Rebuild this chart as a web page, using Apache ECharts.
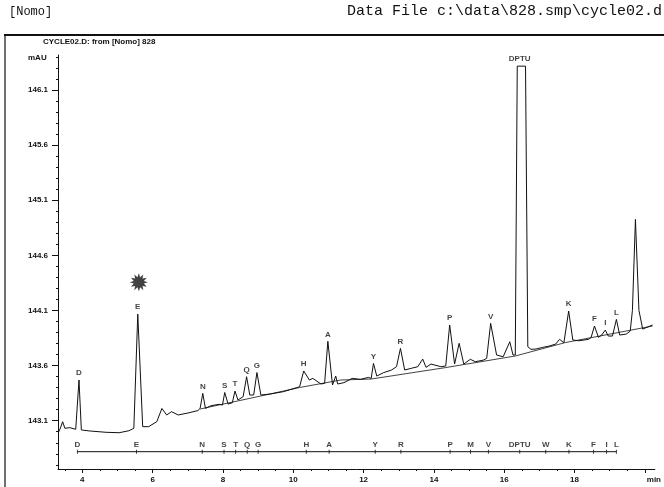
<!DOCTYPE html>
<html>
<head>
    <meta charset="utf-8">
    <title>CYCLE02.D</title>
    <script src="https://cdn.jsdelivr.net/npm/echarts@6/dist/echarts.min.js"></script>
    <style>
        html, body {
            margin: 0;
            padding: 0;
            background: #ffffff;
        }

        #chart {
            width: 664px;
            height: 487px;
        }
    </style>
</head>
<body>
<div id="chart"></div>
<script>
    // 色谱图数据 (min, mAU)
    var times = [3.322, 3.378, 3.440, 3.504, 3.644, 3.812, 3.905, 3.972, 4.204, 4.672,
        5.045, 5.325, 5.465, 5.577, 5.717, 5.885, 6.118, 6.263, 6.398, 6.538,
        6.725, 7.006, 7.286, 7.350, 7.426, 7.501, 7.658, 7.894, 7.986, 8.050,
        8.146, 8.266, 8.342, 8.426, 8.574, 8.672, 8.762, 8.874, 8.966, 9.078,
        9.339, 9.714, 10.087, 10.179, 10.297, 10.459, 10.555, 10.787, 10.891, 10.983,
        11.115, 11.207, 11.263, 11.440, 11.675, 11.908, 12.140, 12.216, 12.280, 12.375,
        12.560, 12.796, 12.936, 13.048, 13.168, 13.356, 13.541, 13.681, 13.776, 13.916,
        14.196, 14.336, 14.448, 14.588, 14.717, 14.849, 15.036, 15.176, 15.409, 15.501,
        15.613, 15.782, 15.969, 16.157, 16.249, 16.314, 16.370, 16.605, 16.670, 16.762,
        16.902, 17.090, 17.277, 17.462, 17.574, 17.697, 17.742, 17.832, 17.950, 18.118,
        18.398, 18.471, 18.566, 18.678, 18.770, 18.874, 18.958, 19.078, 19.190, 19.283,
        19.471, 19.583, 19.645, 19.731, 19.831, 19.938, 20.218];
    var signal = [142.995, 143.034, 143.091, 143.031, 143.037, 143.022, 143.469, 143.016, 143.007, 142.995,
        142.991, 143.009, 143.031, 144.067, 143.046, 143.046, 143.091, 143.211, 143.152, 143.182,
        143.152, 143.170, 143.192, 143.212, 143.348, 143.212, 143.236, 143.249, 143.242, 143.356,
        143.251, 143.263, 143.369, 143.288, 143.318, 143.499, 143.333, 143.333, 143.537, 143.333,
        143.342, 143.363, 143.399, 143.408, 143.551, 143.469, 143.484, 143.433, 143.439, 143.820,
        143.424, 143.505, 143.433, 143.445, 143.484, 143.475, 143.493, 143.484, 143.620, 143.505,
        143.535, 143.560, 143.590, 143.756, 143.560, 143.575, 143.590, 143.659, 143.584, 143.614,
        143.590, 143.596, 143.968, 143.614, 143.802, 143.614, 143.657, 143.635, 143.650, 143.666,
        143.983, 143.696, 143.680, 143.816, 143.696, 143.696, 146.316, 146.316, 143.771, 143.747,
        143.750, 143.765, 143.777, 143.795, 143.838, 143.807, 143.816, 144.095, 143.832, 143.825,
        143.838, 143.856, 143.959, 143.856, 143.877, 143.922, 143.868, 143.868, 144.019, 143.877,
        143.886, 143.913, 144.100, 144.926, 144.100, 143.931, 143.968];

    // 积分基线
    var baseTimes = [7.350, 9.078, 10.179, 11.347, 12.216, 14.336, 16.314, 17.742, 20.218];
    var baseValues = [143.206, 143.324, 143.401, 143.469, 143.478, 143.582, 143.687, 143.809, 143.959];

    // 峰标记
    var peakNames = ['D', 'E', 'N', 'S', 'T', 'Q', 'G', 'H', 'A', 'Y', 'R', 'P', 'V', 'DPTU', 'K', 'F', 'I', 'L'];
    var peakTimes = [3.905, 5.577, 7.426, 8.050, 8.342, 8.672, 8.966, 10.297, 10.983, 12.280,
        13.048, 14.448, 15.613, 16.440, 17.832, 18.566, 18.874, 19.190];
    var peakTops = [143.469, 144.067, 143.348, 143.356, 143.369, 143.499, 143.537, 143.551, 143.820, 143.620,
        143.756, 143.968, 143.983, 146.316, 144.095, 143.959, 143.922, 144.019];

    // 时间轴上的峰名
    var eventNames = ['D', 'E', 'N', 'S', 'T', 'Q', 'G', 'H', 'A', 'Y', 'R', 'P', 'M', 'V', 'DPTU', 'W', 'K', 'F', 'I', 'L'];
    var eventTimes = [3.86, 5.54, 7.41, 8.03, 8.36, 8.69, 9.00, 10.37, 11.02, 12.33,
        13.06, 14.46, 15.04, 15.55, 16.44, 17.18, 17.84, 18.54, 18.91, 19.19];
    var eventLevel = 142.819;

    // 坐标轴刻度
    var xTicks = [4, 6, 8, 10, 12, 14, 16, 18, 20];
    var xMinorTicks = [3.5, 4.5, 5, 5.5, 6.5, 7, 7.5, 8.5, 9, 9.5, 10.5, 11, 11.5, 12.5, 13, 13.5,
        14.5, 15, 15.5, 16.5, 17, 17.5, 18.5, 19, 19.5];
    var yTicks = [143.1, 143.6, 144.1, 144.6, 145.1, 145.6, 146.1];
    var yMinorTicks = [142.7, 142.8, 142.9, 143.0, 143.2, 143.3, 143.4, 143.5, 143.7, 143.8, 143.9, 144.0,
        144.2, 144.3, 144.4, 144.5, 144.7, 144.8, 144.9, 145.0, 145.2, 145.3, 145.4, 145.5,
        145.7, 145.8, 145.9, 146.0, 146.2, 146.3, 146.4];

    var starTime = 5.605, starValue = 144.33;

    var ink = '#111111';

    function zip(a, b) {
        return a.map(function (v, i) {
            return [v, b[i]];
        });
    }

    var chart = echarts.init(document.getElementById('chart'), null, {renderer: 'canvas'});

    var xRange = {min: 3.308, max: 20.283};
    var yRange = {min: 142.662, max: 146.417};

    var option = {
        backgroundColor: '#ffffff',
        animation: false,
        grid: {left: 58, right: 0, top: 55, bottom: 18, containLabel: false},
        xAxis: [{
            type: 'value',
            min: xRange.min,
            max: xRange.max,
            axisLine: {lineStyle: {color: ink, width: 1}},
            axisTick: {show: true, length: 4, customValues: xTicks, lineStyle: {color: ink}},
            axisLabel: {
                customValues: xTicks,
                margin: 7,
                color: ink, fontSize: 8, fontWeight: 'bold', fontFamily: 'Liberation Sans',
                formatter: function (v) {
                    return v === 20 ? '{m|min}' : String(v);
                },
                rich: {m: {padding: [0, 0, 0, 18], fontSize: 8, fontWeight: 'bold', color: ink}}
            },
            splitLine: {show: false}
        }, {
            type: 'value',
            position: 'bottom',
            min: xRange.min,
            max: xRange.max,
            axisLine: {show: false},
            axisTick: {show: true, length: 2, customValues: xMinorTicks, lineStyle: {color: ink}},
            axisLabel: {show: false},
            splitLine: {show: false}
        }],
        yAxis: [{
            type: 'value',
            min: yRange.min,
            max: yRange.max,
            axisLine: {show: true, lineStyle: {color: ink, width: 1}},
            axisTick: {show: true, length: 6, customValues: yTicks, lineStyle: {color: ink}},
            axisLabel: {
                customValues: yTicks,
                margin: 10,
                color: ink, fontSize: 8, fontWeight: 'bold', fontFamily: 'Liberation Sans',
                formatter: function (v) {
                    return v.toFixed(1);
                }
            },
            splitLine: {show: false}
        }, {
            type: 'value',
            position: 'left',
            min: yRange.min,
            max: yRange.max,
            axisLine: {show: false},
            axisTick: {show: true, length: 2, customValues: yMinorTicks, lineStyle: {color: ink}},
            axisLabel: {show: false},
            splitLine: {show: false}
        }],
        graphic: [
            {type: 'line', shape: {x1: 4, y1: 35, x2: 664, y2: 35}, style: {stroke: ink, lineWidth: 2}},
            {type: 'line', shape: {x1: 5, y1: 35, x2: 5, y2: 487}, style: {stroke: ink, lineWidth: 1.2}},
            {
                type: 'text', left: 9, top: 6,
                style: {text: '[Nomo]', fill: ink, font: '12px "Liberation Mono"'}
            },
            {
                type: 'text', right: 2, top: 4,
                style: {text: 'Data File c:\\data\\828.smp\\cycle02.d', fill: ink, font: '15px "Liberation Mono"'}
            },
            {
                type: 'text', left: 43, top: 38,
                style: {text: 'CYCLE02.D: from [Nomo] 828', fill: ink, font: 'bold 8px "Liberation Sans Narrow", "Liberation Sans"'}
            },
            {
                type: 'text', left: 28, top: 54,
                style: {text: 'mAU', fill: ink, font: 'bold 8px "Liberation Sans"'}
            }
        ],
        series: [
            {
                name: 'signal',
                type: 'line',
                data: zip(times, signal),
                symbol: 'none',
                lineStyle: {color: ink, width: 1},
                z: 5
            },
            {
                name: 'baseline',
                type: 'line',
                data: zip(baseTimes, baseValues),
                symbol: 'none',
                lineStyle: {color: ink, width: 0.8},
                z: 4
            },
            {
                name: 'peaks',
                type: 'scatter',
                data: zip(peakTimes, peakTops),
                symbolSize: 0,
                label: {
                    show: true,
                    position: 'top',
                    distance: 3,
                    formatter: function (p) {
                        return peakNames[p.dataIndex];
                    },
                    color: ink, fontSize: 8, fontWeight: 'bold', fontFamily: 'Liberation Sans'
                },
                z: 6
            },
            {
                name: 'star',
                type: 'scatter',
                data: [[starTime, starValue]],
                symbolSize: 0,
                label: {
                    show: true,
                    position: 'inside',
                    formatter: '\u2739',
                    color: ink, fontSize: 24, fontFamily: 'DejaVu Sans'
                }
            },
            {
                name: 'events',
                type: 'line',
                data: [[eventTimes[0], eventLevel], [eventTimes[eventTimes.length - 1], eventLevel]],
                symbol: 'none',
                lineStyle: {color: ink, width: 1}
            },
            {
                name: 'eventMarks',
                type: 'scatter',
                data: eventTimes.map(function (t) {
                    return [t, eventLevel];
                }),
                symbol: 'rect',
                symbolSize: [1, 4],
                itemStyle: {color: ink},
                label: {
                    show: true,
                    position: 'top',
                    distance: 1,
                    formatter: function (p) {
                        return eventNames[p.dataIndex];
                    },
                    color: ink, fontSize: 8, fontWeight: 'bold', fontFamily: 'Liberation Sans'
                }
            }
        ]
    };
    chart.setOption(option);

    window.onresize = function () {
        chart.resize();
    };
</script>
</body>
</html>
